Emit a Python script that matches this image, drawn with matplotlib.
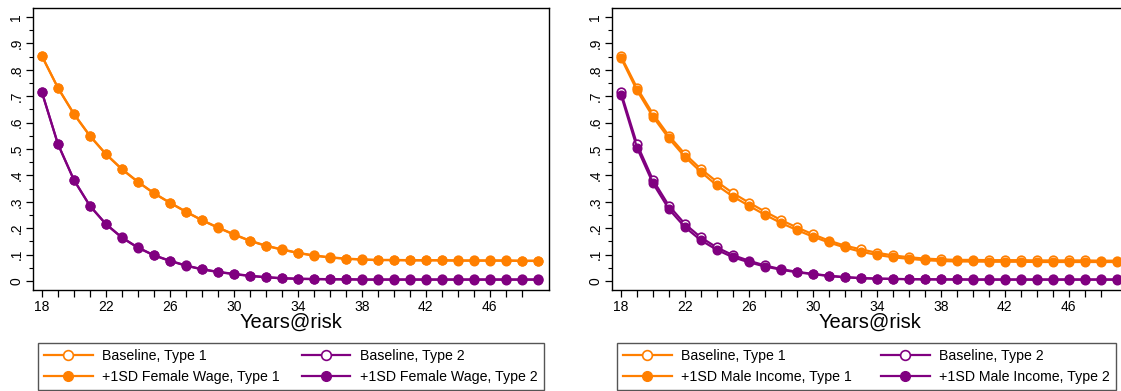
import matplotlib
matplotlib.use("Agg")
import matplotlib.pyplot as plt
from matplotlib.ticker import MultipleLocator, FuncFormatter

plt.rcParams['font.family'] = ['Liberation Sans', 'DejaVu Sans']

years = list(range(18, 50))

base_t1 = [.852, .732, .633, .550, .481, .424, .376, .333, .297, .263, .231, .203,
           .177, .153, .134, .120, .107, .097, .090, .085, .082, .080, .080, .079,
           .079, .079, .078, .078, .078, .078, .077, .077]
base_t2 = [.715, .519, .383, .285, .216, .165, .127, .098, .077, .059, .045, .035,
           .027, .020, .015, .011, .009, .008, .007, .007, .006, .006, .006, .006,
           .006, .006, .006, .006, .006, .006, .006, .006]

# +1SD female wage: almost on top of the baseline
fw_t1 = [.851, .731, .632, .549, .480, .423, .375, .332, .296, .262, .230, .202,
         .176, .152, .133, .119, .106, .096, .089, .084, .081, .079, .079, .078,
         .078, .078, .077, .077, .077, .077, .076, .076]
fw_t2 = [.714, .518, .382, .284, .215, .164, .126, .097, .076, .058, .044, .034,
         .026, .019, .014, .010, .008, .007, .006, .006, .005, .005, .005, .005,
         .005, .005, .005, .005, .005, .005, .005, .005]

# +1SD male income: a bit lower
mi_t1 = [.845, .722, .622, .540, .470, .413, .362, .320, .285, .251, .220, .193,
         .168, .146, .127, .111, .099, .090, .084, .079, .076, .074, .074, .073,
         .073, .073, .072, .072, .072, .072, .072, .072]
mi_t2 = [.705, .505, .370, .272, .204, .154, .118, .090, .071, .055, .043, .033,
         .026, .019, .014, .011, .009, .008, .007, .006, .006, .006, .005, .005,
         .005, .005, .005, .005, .005, .005, .005, .005]

panels = [
    ("Female Wage", fw_t1, fw_t2),
    ("Male Income", mi_t1, mi_t2),
]

ORANGE = '#ff7f00'
PURPLE = '#800080'

fig = plt.figure(figsize=(11.21, 3.91), dpi=100)

ax_lefts = [33 / 1121, 612 / 1121]
ax_w = 516 / 1121
ax_b = 1 - 290 / 391
ax_h = (290 - 8) / 391

leg_lefts = [38 / 1121, 617 / 1121]
col_gaps = [1.6, 2.1]

yfmt = FuncFormatter(lambda v, p: '0' if abs(v) < 1e-9 else ('1' if abs(v - 1) < 1e-9 else ('%.1f' % v).lstrip('0')))

for i, (name, t1, t2) in enumerate(panels):
    ax = fig.add_axes([ax_lefts[i], ax_b, ax_w, ax_h])
    kw = dict(lw=1.6, ms=6.2, marker='o')
    h1, = ax.plot(years, base_t1, color=ORANGE, mfc='white', mec=ORANGE, mew=1.2, **kw)
    h2, = ax.plot(years, base_t2, color=PURPLE, mfc='white', mec=PURPLE, mew=1.2, **kw)
    h3, = ax.plot(years, t1, color=ORANGE, mfc=ORANGE, mec=ORANGE, **kw)
    h4, = ax.plot(years, t2, color=PURPLE, mfc=PURPLE, mec=PURPLE, **kw)

    ax.set_xlim(17.44, 49.7)
    ax.set_ylim(-0.034, 1.034)
    ax.set_xticks(range(18, 47, 4))
    ax.set_xticks(range(18, 49), minor=True)
    ax.yaxis.set_major_locator(MultipleLocator(0.1))
    ax.yaxis.set_minor_locator(MultipleLocator(0.05))
    ax.yaxis.set_major_formatter(yfmt)
    ax.tick_params(axis='x', which='both', length=5, width=0.9, labelsize=10, pad=2)
    ax.tick_params(axis='y', which='major', length=5, width=0.9, labelsize=10, pad=2,
                   labelrotation=90)
    ax.tick_params(axis='y', which='minor', length=3, width=0.8)
    for lab in ax.get_yticklabels():
        lab.set_verticalalignment('center')
    for s in ax.spines.values():
        s.set_linewidth(1.0)
    ax.set_xlabel('Years@risk', fontsize=14.5, labelpad=-1)

    # matplotlib fills legend columns first; reorder so rows read as in the original
    leg = fig.legend([h1, h3, h2, h4],
                     ['Baseline, Type 1', '+1SD %s, Type 1' % name,
                      'Baseline, Type 2', '+1SD %s, Type 2' % name],
                     ncol=2, loc='lower left',
                     bbox_to_anchor=(leg_lefts[i], 1 / 391),
                     fontsize=10.2, handlelength=3.4, handletextpad=0.65,
                     borderpad=0.45, borderaxespad=0, labelspacing=0.45,
                     columnspacing=col_gaps[i],
                     fancybox=False, framealpha=1, edgecolor='#555555')
    leg.get_frame().set_linewidth(1.0)
    for line in leg.get_lines():
        line.set_markersize(7)

fig.savefig('out.png', dpi=100)
